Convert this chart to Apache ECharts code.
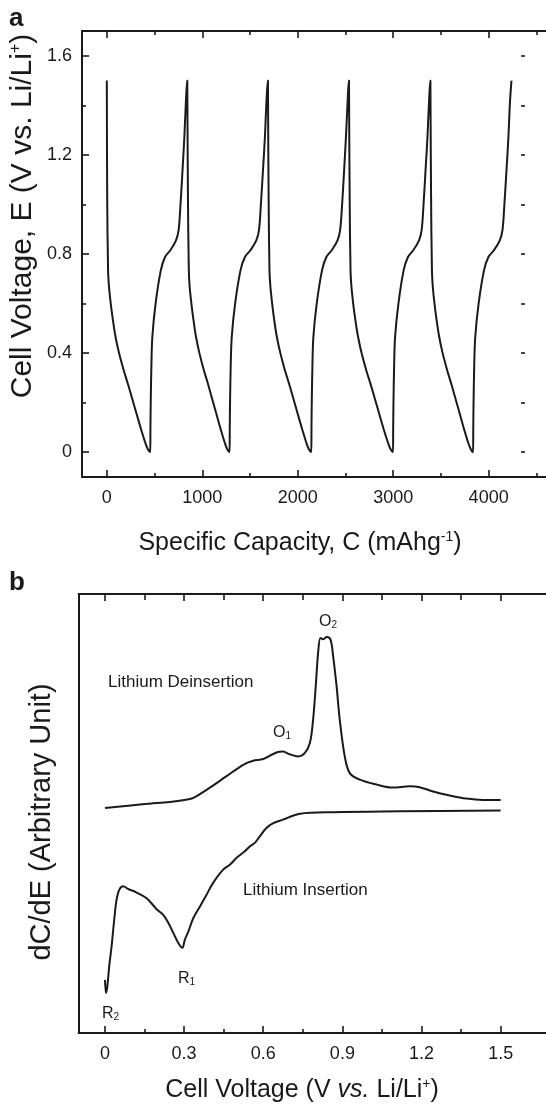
<!DOCTYPE html>
<html>
<head>
<meta charset="utf-8">
<script src="https://cdn.jsdelivr.net/npm/echarts@6/dist/echarts.min.js"></script>
<style>
html,body{margin:0;padding:0;background:#ffffff;}
#chart{width:546px;height:1108px;}
</style>
</head>
<body>
<div id="chart"></div>
<script>
// ---------- Panel a: galvanostatic cycling ----------
const capacity = [
  0,4,13,23,41,64,91,128,176,219,260,310,361,405,430,455,
  457,460,467,477,511,566,610,665,725,752,772,793,812,828,843,
  846,850,859,868,886,908,934,970,1016,1058,1097,1146,1195,1238,1262,1286,
  1288,1291,1298,1309,1344,1401,1447,1504,1566,1594,1614,1636,1656,1672,1688,
  1691,1695,1704,1714,1732,1754,1781,1818,1865,1908,1949,1998,2049,2092,2117,2142,
  2144,2147,2154,2164,2199,2255,2300,2356,2417,2444,2465,2486,2505,2522,2537,
  2540,2544,2553,2563,2581,2604,2632,2669,2717,2761,2802,2852,2903,2948,2973,2998,
  3000,3003,3010,3020,3055,3110,3155,3210,3271,3298,3318,3339,3359,3375,3390,
  3393,3397,3406,3415,3433,3455,3482,3518,3565,3607,3647,3696,3745,3788,3813,3837,
  3839,3842,3849,3860,3895,3952,3998,4055,4117,4145,4165,4187,4207,4223,4239
];
const voltage = [
  1.5,1.03,0.735,0.667,0.60,0.533,0.466,0.40,0.332,0.278,0.224,0.157,0.09,0.036,0.012,0.0,
  0.1,0.2,0.35,0.466,0.60,0.735,0.788,0.815,0.855,0.896,1.0,1.138,1.27,1.41,1.5,
  1.5,1.03,0.735,0.667,0.60,0.533,0.466,0.40,0.332,0.278,0.224,0.157,0.09,0.036,0.012,0.0,
  0.1,0.2,0.35,0.466,0.60,0.735,0.788,0.815,0.855,0.896,1.0,1.138,1.27,1.41,1.5,
  1.5,1.03,0.735,0.667,0.60,0.533,0.466,0.40,0.332,0.278,0.224,0.157,0.09,0.036,0.012,0.0,
  0.1,0.2,0.35,0.466,0.60,0.735,0.788,0.815,0.855,0.896,1.0,1.138,1.27,1.41,1.5,
  1.5,1.03,0.735,0.667,0.60,0.533,0.466,0.40,0.332,0.278,0.224,0.157,0.09,0.036,0.012,0.0,
  0.1,0.2,0.35,0.466,0.60,0.735,0.788,0.815,0.855,0.896,1.0,1.138,1.27,1.41,1.5,
  1.5,1.03,0.735,0.667,0.60,0.533,0.466,0.40,0.332,0.278,0.224,0.157,0.09,0.036,0.012,0.0,
  0.1,0.2,0.35,0.466,0.60,0.735,0.788,0.815,0.855,0.896,1.0,1.138,1.27,1.41,1.5
];
const capTicks = [0,1000,2000,3000,4000];
const capMinorTicks = [500,1500,2500,3500,4500];
const voltTicks = [0,0.4,0.8,1.2,1.6];
const voltMinorTicks = [0.2,0.6,1.0,1.4];
const voltRightTicks = [0,0.2,0.4,0.6,0.8,1.0,1.2,1.4,1.6];

// ---------- Panel b: differential capacity ----------
const deinsVoltage = [0,0.16,0.322,0.385,0.461,0.524,0.562,0.6,0.65,0.675,0.70,0.732,0.758,0.777,0.789,0.799,0.808,0.817,0.828,0.840,0.855,0.865,0.878,0.890,0.909,0.928,0.966,1.029,1.092,1.155,1.193,1.244,1.307,1.37,1.433,1.5];
const deinsDCdE    = [51.25,52.2,53.3,55.4,58.5,61.1,62.0,62.4,63.9,64.1,63.5,63.0,63.8,66.1,71.4,79.0,86.6,90.0,89.7,90.2,89.6,85.8,79.0,71.4,63.0,59.2,57.7,56.6,55.9,56.2,56.0,55.0,54.1,53.4,53.1,53.1];
const insVoltage = [0,0.004,0.009,0.016,0.025,0.035,0.044,0.054,0.069,0.088,0.120,0.158,0.196,0.221,0.240,0.259,0.278,0.293,0.303,0.316,0.335,0.360,0.385,0.410,0.448,0.473,0.499,0.530,0.549,0.568,0.587,0.612,0.638,0.675,0.739,0.865,1.117,1.5];
const insDCdE    = [12.1,9.1,10.6,15.2,19.7,25.8,30.4,32.6,33.4,32.8,32.0,30.7,28.2,26.9,25.1,22.8,20.5,19.4,21.3,23.1,26.2,28.8,31.5,34.2,37.2,38.3,39.9,41.4,42.5,43.3,44.8,46.7,47.8,48.6,49.95,50.3,50.5,50.7];
const cvTicks = [0,0.3,0.6,0.9,1.2,1.5];
const cvMinorTicks = [0.15,0.45,0.75,1.05,1.35];

const INK = '#1a1a1a';
const FONT = '"Liberation Sans", Arial, Helvetica, sans-serif';
const plain = v => String(v);

function xAx(grid, pos, min, max, vals, len, labels, line) {
  return {
    type: 'value', gridIndex: grid, position: pos, min: min, max: max,
    axisLine: { show: line, onZero: false, lineStyle: { color: INK, width: 2 } },
    axisTick: { show: true, inside: true, length: len, customValues: vals, lineStyle: { color: INK, width: 1.6 } },
    axisLabel: labels ? { show: true, customValues: vals, formatter: plain, fontSize: 18, color: INK, fontFamily: FONT, margin: 12 } : { show: false },
    splitLine: { show: false }
  };
}
function yAx(grid, pos, min, max, vals, len, labels, line, offset) {
  return {
    type: 'value', gridIndex: grid, position: pos, min: min, max: max, offset: offset || 0,
    axisLine: { show: line, onZero: false, lineStyle: { color: INK, width: 2 } },
    axisTick: vals ? { show: true, inside: true, length: len, customValues: vals, lineStyle: { color: INK, width: 1.6 } } : { show: false },
    axisLabel: labels ? { show: true, customValues: vals, formatter: plain, fontSize: 18, color: INK, fontFamily: FONT, margin: 10 } : { show: false },
    splitLine: { show: false }
  };
}

const chart = echarts.init(document.getElementById('chart'), null, { renderer: 'canvas' });

const option = {
  animation: false,
  backgroundColor: '#ffffff',
  grid: [
    { left: 82, top: 31, width: 483, height: 446, outerBoundsMode: 'none', containLabel: false },
    { left: 78.6, top: 594, width: 488, height: 439, outerBoundsMode: 'none', containLabel: false }
  ],
  xAxis: [
    xAx(0, 'bottom', -260, 4800, capTicks, 7, true, true),
    xAx(0, 'bottom', -260, 4800, capMinorTicks, 4, false, false),
    xAx(0, 'top', -260, 4800, capTicks, 7, false, true),
    xAx(0, 'top', -260, 4800, capMinorTicks, 4, false, false),
    xAx(1, 'bottom', -0.1, 1.75, cvTicks, 7, true, true),
    xAx(1, 'bottom', -0.1, 1.75, cvMinorTicks, 4, false, false),
    xAx(1, 'top', -0.1, 1.75, cvTicks, 7, false, true),
    xAx(1, 'top', -0.1, 1.75, cvMinorTicks, 6, false, false)
  ],
  yAxis: [
    yAx(0, 'left', -0.1, 1.7, voltTicks, 7, true, true),
    yAx(0, 'left', -0.1, 1.7, voltMinorTicks, 4, false, false),
    yAx(0, 'right', -0.1, 1.7, voltRightTicks, 4, false, false, -40),
    yAx(1, 'left', 0, 100, null, 0, false, true)
  ],
  series: [
    {
      type: 'line', xAxisIndex: 0, yAxisIndex: 0,
      data: capacity.map((c, i) => [c, voltage[i]]),
      showSymbol: false, smooth: 0.35,
      lineStyle: { color: INK, width: 2 }
    },
    {
      type: 'line', xAxisIndex: 4, yAxisIndex: 3,
      data: deinsVoltage.map((v, i) => [v, deinsDCdE[i]]),
      showSymbol: false, smooth: 0.35,
      lineStyle: { color: INK, width: 2 }
    },
    {
      type: 'line', xAxisIndex: 4, yAxisIndex: 3,
      data: insVoltage.map((v, i) => [v, insDCdE[i]]),
      showSymbol: false, smooth: 0.35,
      lineStyle: { color: INK, width: 2 }
    }
  ],
  graphic: [
    { type: 'text', x: 9, y: 19, style: { text: 'a', fill: INK, font: 'bold 26px ' + FONT, align: 'left', verticalAlign: 'middle' } },
    { type: 'text', x: 9, y: 583, style: { text: 'b', fill: INK, font: 'bold 26px ' + FONT, align: 'left', verticalAlign: 'middle' } },
    { type: 'text', x: 300, y: 543, style: {
        text: '{a|Specific Capacity, C (mAhg}{s|-1}{a|)}', align: 'center', verticalAlign: 'middle',
        rich: { a: { fontSize: 25, fontFamily: FONT, fill: INK }, s: { fontSize: 14, fontFamily: FONT, fill: INK, verticalAlign: 'top' } } } },
    { type: 'text', x: 23, y: 216, rotation: Math.PI / 2, style: {
        text: '{a|Cell Voltage, E (V vs. Li/Li}{s|+}{a|)}', align: 'center', verticalAlign: 'middle',
        rich: { a: { fontSize: 30, fontFamily: FONT, fill: INK }, s: { fontSize: 16, fontFamily: FONT, fill: INK, verticalAlign: 'top' } } } },
    { type: 'text', x: 42, y: 822, rotation: Math.PI / 2, style: {
        text: 'dC/dE (Arbitrary Unit)', align: 'center', verticalAlign: 'middle', fill: INK, fontSize: 29, fontFamily: FONT } },
    { type: 'text', x: 302, y: 1090, style: {
        text: '{a|Cell Voltage (V }{i|vs.}{a| Li/Li}{s|+}{a|)}', align: 'center', verticalAlign: 'middle',
        rich: { a: { fontSize: 25, fontFamily: FONT, fill: INK }, i: { fontSize: 25, fontFamily: FONT, fill: INK, fontStyle: 'italic' }, s: { fontSize: 14, fontFamily: FONT, fill: INK, verticalAlign: 'top' } } } },
    { type: 'text', x: 108, y: 682, style: { text: 'Lithium Deinsertion', fill: INK, fontSize: 17, fontFamily: FONT, align: 'left', verticalAlign: 'middle' } },
    { type: 'text', x: 243, y: 890, style: { text: 'Lithium Insertion', fill: INK, fontSize: 17, fontFamily: FONT, align: 'left', verticalAlign: 'middle' } },
    { type: 'text', x: 319, y: 622, style: { text: '{a|O}{s|2}', align: 'left', verticalAlign: 'middle',
        rich: { a: { fontSize: 16, fontFamily: FONT, fill: INK }, s: { fontSize: 10, fontFamily: FONT, fill: INK, verticalAlign: 'bottom' } } } },
    { type: 'text', x: 273, y: 733, style: { text: '{a|O}{s|1}', align: 'left', verticalAlign: 'middle',
        rich: { a: { fontSize: 16, fontFamily: FONT, fill: INK }, s: { fontSize: 10, fontFamily: FONT, fill: INK, verticalAlign: 'bottom' } } } },
    { type: 'text', x: 178, y: 979, style: { text: '{a|R}{s|1}', align: 'left', verticalAlign: 'middle',
        rich: { a: { fontSize: 16, fontFamily: FONT, fill: INK }, s: { fontSize: 10, fontFamily: FONT, fill: INK, verticalAlign: 'bottom' } } } },
    { type: 'text', x: 102, y: 1014, style: { text: '{a|R}{s|2}', align: 'left', verticalAlign: 'middle',
        rich: { a: { fontSize: 16, fontFamily: FONT, fill: INK }, s: { fontSize: 10, fontFamily: FONT, fill: INK, verticalAlign: 'bottom' } } } }
  ]
};
chart.setOption(option);
</script>
</body>
</html>
